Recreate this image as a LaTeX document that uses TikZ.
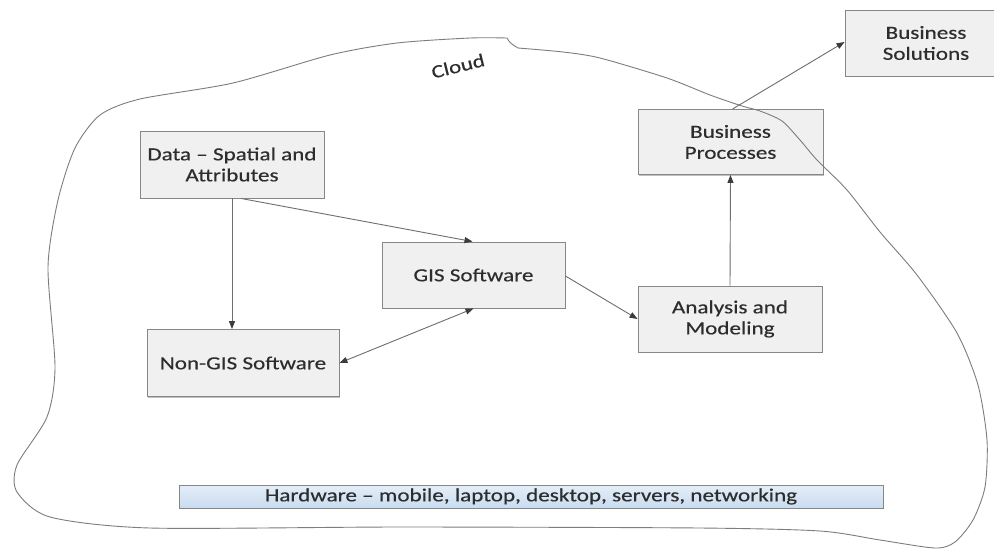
\documentclass[tikz,border=0pt]{standalone}
\usepackage{fontspec}
\setmainfont{Carlito}[FakeStretch=1.25, FakeBold=0.4]
\usetikzlibrary{arrows.meta,shadows}
\definecolor{boxfill}{RGB}{240,240,240}
\definecolor{boxline}{RGB}{135,135,135}
\definecolor{arrline}{RGB}{110,110,110}
\definecolor{arrhead}{RGB}{60,60,60}
\definecolor{cloudline}{RGB}{125,125,125}
\definecolor{hwtop}{RGB}{228,238,248}
\definecolor{hwbot}{RGB}{200,220,240}
\definecolor{txt}{RGB}{45,45,45}
\tikzset{
  lbl/.style={text=txt, font=\fontsize{18.5}{21}\selectfont},
  procbox/.style={lbl, draw=boxline, fill=boxfill, line width=0.9pt, inner sep=0pt,
    align=center,
    drop shadow={shadow xshift=1.2pt, shadow yshift=-1.2pt, opacity=0.25, fill=black}},
  conn/.style={draw=arrline, line width=0.9pt,
    -{Triangle[length=8pt,width=6pt,color=arrhead]}},
  biconn/.style={draw=arrline, line width=0.9pt,
    {Triangle[length=8pt,width=6pt,color=arrhead]}-{Triangle[length=8pt,width=6pt,color=arrhead]}},
}
\begin{document}
\begin{tikzpicture}[x=1pt,y=-1pt]
\useasboundingbox (0,0) rectangle (994,550);
\clip (0,0) rectangle (994,550);
\fill[white] (0,0) rectangle (994,550);
% boxes
\node[procbox, minimum width=184pt, minimum height=67pt] (data) at (232,164.5) {Data – Spatial and\\Attributes};
\node[procbox, minimum width=183pt, minimum height=66pt] (gis) at (473.5,275) {GIS Software};
\node[procbox, minimum width=192pt, minimum height=67pt] (nongis) at (243,363) {Non-GIS Software};
\node[procbox, minimum width=184pt, minimum height=66pt] (anal) at (730,319) {Analysis and\\Modeling};
\node[procbox, minimum width=185pt, minimum height=65pt] (bproc) at (730.5,142) {Business\\Processes};
\node[procbox, minimum width=162pt, minimum height=66pt] (bsol) at (926,43) {Business\\Solutions};
\node[lbl, draw=boxline, line width=0.9pt, top color=hwtop, bottom color=hwbot, inner sep=0pt,
  minimum width=704pt, minimum height=23pt,
  drop shadow={shadow xshift=1.2pt, shadow yshift=-1.2pt, opacity=0.25, fill=black}]
  (hw) at (531,496.5) {Hardware – mobile, laptop, desktop, servers, networking};
% cloud
\draw[cloudline, line width=0.9pt]
  plot[smooth, tension=0.45] coordinates {
   (518,48) (563,52) (600,58) (667,78) (710,95) (742,106) (760,111) (782,121)
   (800,140) (817,160) (847,190) (880,232) (917,275) (957,333) (978,385) (987,440)
   (985,487) (973,520) (955,542) (935,548) (880,540) (820,531) (700,528) (400,527)
   (150,528) (50,517) (17,492) (17,465) (47,417) (55,367) (48,267) (58,200)
   (75,148) (100,115) (140,99) (233,83) (330,55) (397,43) (470,38) (507,38)}
  .. controls (510,43) .. (518,48);
\node[lbl, rotate=14] (cloudlbl) at (458,66) {Cloud};
% connectors
\draw[conn] (data.south) -- (data.south |- nongis.north);
\draw[conn] ([xshift=9pt]data.south) -- ([xshift=-1pt]gis.north);
\draw[biconn] (gis.south) -- (nongis.east);
\draw[conn] ([yshift=-1pt]gis.east) -- (anal.west);
\draw[conn] (anal.north) -- (bproc.south);
\draw[conn] ([xshift=2pt]bproc.north) -- ([yshift=1pt]bsol.west);
\end{tikzpicture}
\end{document}
